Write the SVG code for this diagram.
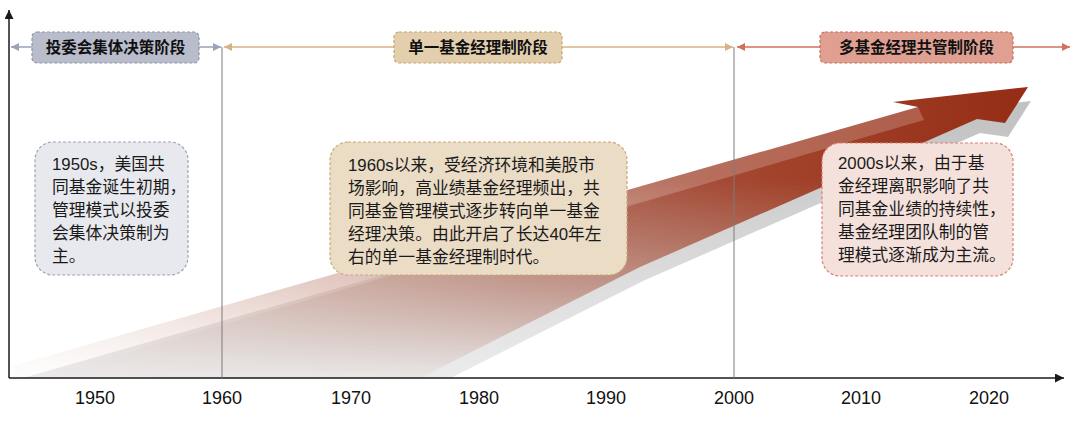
<svg xmlns="http://www.w3.org/2000/svg" width="1080" height="421" viewBox="0 0 1080 421">
  <style>
    .hdr { font-family: "Liberation Sans", "Noto Sans CJK SC", sans-serif; font-size: 15.5px; font-weight: bold; fill: #111; text-anchor: middle; }
    .body { font-family: "Liberation Sans", "Noto Sans CJK SC", sans-serif; font-size: 16.8px; fill: #1a1a1a; }
    .year { font-family: "Liberation Sans", "Noto Sans CJK SC", sans-serif; font-size: 18px; fill: #111; text-anchor: middle; }
    .axis { stroke: #1a1a1a; stroke-width: 1.5; fill: none; }
    .vline { stroke: #7a7a7a; stroke-width: 1; }
  </style>
  <defs>
    <marker id="mBlack" viewBox="0 0 10 10" refX="10" refY="5" markerWidth="10" markerHeight="9" markerUnits="userSpaceOnUse" orient="auto-start-reverse">
      <path d="M0,0 L10,5 L0,10 z" fill="#1a1a1a"/>
    </marker>
    <marker id="mGrey" viewBox="0 0 10 10" refX="10" refY="5" markerWidth="10" markerHeight="8" markerUnits="userSpaceOnUse" orient="auto-start-reverse">
      <path d="M0,0 L10,5 L0,10 z" fill="#9aa1b8"/>
    </marker>
    <marker id="mTan" viewBox="0 0 10 10" refX="10" refY="5" markerWidth="10" markerHeight="8" markerUnits="userSpaceOnUse" orient="auto-start-reverse">
      <path d="M0,0 L10,5 L0,10 z" fill="#d6b384"/>
    </marker>
    <marker id="mRed" viewBox="0 0 10 10" refX="10" refY="5" markerWidth="10" markerHeight="8" markerUnits="userSpaceOnUse" orient="auto-start-reverse">
      <path d="M0,0 L10,5 L0,10 z" fill="#d3705a"/>
    </marker>
    <linearGradient id="redGrad" gradientUnits="userSpaceOnUse" x1="1028" y1="0" x2="13" y2="0">
      <stop offset="0" stop-color="#952d15"/>
      <stop offset="0.25" stop-color="#a2432c"/>
      <stop offset="0.5" stop-color="#ad6350"/>
      <stop offset="0.75" stop-color="#c79585"/>
      <stop offset="1" stop-color="#e6cbc2"/>
    </linearGradient>
    <linearGradient id="shadowGrad" gradientUnits="userSpaceOnUse" x1="0" y1="100" x2="0" y2="378">
      <stop offset="0" stop-color="#c2c2c2"/>
      <stop offset="1" stop-color="#eeeeee"/>
    </linearGradient>
    <linearGradient id="maskGrad" gradientUnits="userSpaceOnUse" x1="0" y1="180" x2="0" y2="378">
      <stop offset="0" stop-color="#ffffff"/>
      <stop offset="0.55" stop-color="#858585"/>
      <stop offset="1" stop-color="#0a0a0a"/>
    </linearGradient>
    <mask id="fadeMask" maskUnits="userSpaceOnUse" x="0" y="0" width="1080" height="421">
      <rect x="0" y="0" width="1080" height="421" fill="url(#maskGrad)"/>
    </mask>
    <clipPath id="aboveAxis">
      <rect x="9" y="0" width="1071" height="378"/>
    </clipPath>
    <polygon id="arrowShape" points="13,366 918,107 893,102 1028,87 1005,123 977,119 640,267 420,378 13,378"/>
  </defs>

  <g id="growth-arrow">
    <g clip-path="url(#aboveAxis)">
      <use href="#arrowShape" transform="translate(3,14)" fill="url(#shadowGrad)"/>
    </g>
    <g mask="url(#fadeMask)">
      <use href="#arrowShape" fill="url(#redGrad)"/>
      <polygon points="13,366 918,107 924,120 40,378 13,378" fill="#ffffff" opacity="0.2"/>
    </g>
  </g>

  <g id="axes">
    <line class="axis" x1="9" y1="378" x2="9" y2="10" marker-end="url(#mBlack)"/>
    <line class="axis" x1="9" y1="378" x2="1064" y2="378" marker-end="url(#mBlack)"/>
  </g>

  <g id="connectors">
    <line class="vline" x1="222" y1="47" x2="222" y2="378"/>
    <line class="vline" x1="734" y1="47" x2="734" y2="378"/>
    <line x1="11" y1="47" x2="221" y2="47" stroke="#9aa1b8" stroke-width="1.5" marker-start="url(#mGrey)" marker-end="url(#mGrey)"/>
    <line x1="224" y1="47" x2="733" y2="47" stroke="#d6b384" stroke-width="1.5" marker-start="url(#mTan)" marker-end="url(#mTan)"/>
    <line x1="737" y1="47" x2="1070" y2="47" stroke="#d3705a" stroke-width="1.5" marker-start="url(#mRed)" marker-end="url(#mRed)"/>
  </g>

  <g id="phase1-header">
    <rect x="32" y="32" width="167" height="31" rx="5" fill="#b8bccb" stroke="#8f95a8" stroke-width="1.2" stroke-dasharray="3 2"/>
    <text class="hdr" x="115.5" y="53">投委会集体决策阶段</text>
  </g>
  <g id="phase2-header">
    <rect x="394" y="32" width="168" height="31" rx="5" fill="#e3cfae" stroke="#c8a373" stroke-width="1.2" stroke-dasharray="3 2"/>
    <text class="hdr" x="478" y="53">单一基金经理制阶段</text>
  </g>
  <g id="phase3-header">
    <rect x="820" y="32" width="193" height="31" rx="5" fill="#dfa091" stroke="#c96f5c" stroke-width="1.2" stroke-dasharray="3 2"/>
    <text class="hdr" x="916.5" y="53">多基金经理共管制阶段</text>
  </g>

  <g id="note-1950s">
    <rect x="35" y="142" width="153" height="133" rx="18" fill="#e8e9ee" stroke="#a0a4b4" stroke-width="1.2" stroke-dasharray="3 2"/>
    <text class="body" x="52" y="170">
      <tspan x="52" y="170">1950s，美国共</tspan>
      <tspan x="52" y="193">同基金诞生初期，</tspan>
      <tspan x="52" y="216">管理模式以投委</tspan>
      <tspan x="52" y="239">会集体决策制为</tspan>
      <tspan x="52" y="262">主。</tspan>
    </text>
  </g>
  <g id="note-1960s">
    <rect x="330" y="142" width="297" height="133" rx="18" fill="#ebdcc6" stroke="#c9a87a" stroke-width="1.2" stroke-dasharray="3 2"/>
    <text class="body" x="348" y="171">
      <tspan x="348" y="171">1960s以来，受经济环境和美股市</tspan>
      <tspan x="348" y="194">场影响，高业绩基金经理频出，共</tspan>
      <tspan x="348" y="217">同基金管理模式逐步转向单一基金</tspan>
      <tspan x="348" y="240">经理决策。由此开启了长达40年左</tspan>
      <tspan x="348" y="263">右的单一基金经理制时代。</tspan>
    </text>
  </g>
  <g id="note-2000s">
    <rect x="822" y="143" width="191" height="133" rx="18" fill="#f5e1dc" stroke="#d98070" stroke-width="1.2" stroke-dasharray="3 2"/>
    <text class="body" x="838" y="169">
      <tspan x="838" y="169">2000s以来，由于基</tspan>
      <tspan x="838" y="192">金经理离职影响了共</tspan>
      <tspan x="838" y="215">同基金业绩的持续性，</tspan>
      <tspan x="838" y="238">基金经理团队制的管</tspan>
      <tspan x="838" y="261">理模式逐渐成为主流。</tspan>
    </text>
  </g>

  <g id="year-labels">
    <text class="year" x="95" y="404">1950</text>
    <text class="year" x="222" y="404">1960</text>
    <text class="year" x="351" y="404">1970</text>
    <text class="year" x="479" y="404">1980</text>
    <text class="year" x="606" y="404">1990</text>
    <text class="year" x="734" y="404">2000</text>
    <text class="year" x="861" y="404">2010</text>
    <text class="year" x="989" y="404">2020</text>
  </g>
</svg>
